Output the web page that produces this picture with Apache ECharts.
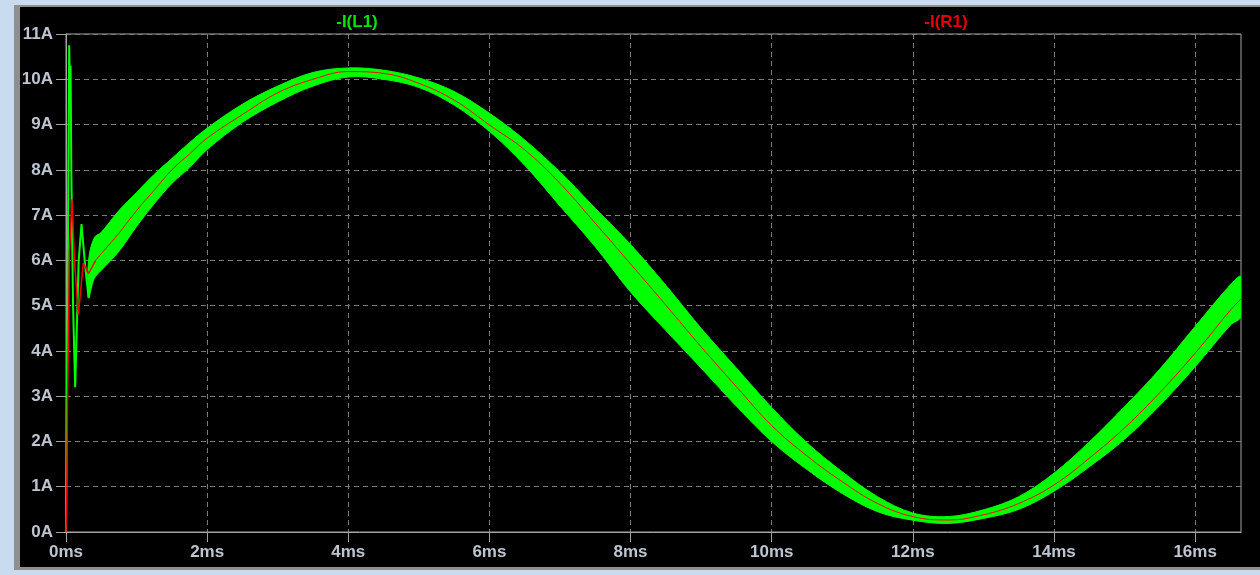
<!DOCTYPE html>
<html>
<head>
<meta charset="utf-8">
<title>-I(L1) / -I(R1)</title>
<script src="https://cdn.jsdelivr.net/npm/echarts@6/dist/echarts.min.js"></script>
<style>
  html, body { margin: 0; padding: 0; width: 1260px; height: 575px; overflow: hidden; background: #c9dbee; }
  #frame {
    position: absolute; left: 14px; top: 5px; width: 1246px; height: 565px;
    box-sizing: border-box; background: #000;
    border-left: 6px solid #8f8f8f; border-top: 2px solid #8f8f8f; border-bottom: 3px solid #8f8f8f;
  }
  #chart { position: absolute; left: 0; top: 0; width: 1260px; height: 575px; }
</style>
</head>
<body>
<div id="frame"></div>
<div id="chart"></div>
<script>
// Time axis in ms, currents in A.

// -I(R1): load current, start-up part
const timeR1Start = [0, 0.01, 0.02, 0.05, 0.085, 0.12, 0.175, 0.245, 0.32, 0.42];
const currentR1Start = [0, 0.7, 2.7, 6.2, 7.35, 6.0, 4.8, 5.94, 5.71, 6.0];

// -I(R1): load current, steady part
const timeR1 = [0.42, 0.5, 0.75, 1.0, 1.25, 1.5, 1.75,
  2.0, 2.5, 3.0, 3.5, 4.0, 4.5, 5.0, 5.5, 6.0, 6.5, 7.0, 7.5, 8.0, 8.5, 9.0, 9.5, 10.0, 10.5, 11.0, 11.5,
  12.0, 12.5, 13.0, 13.5, 14.0, 14.5, 15.0, 15.5, 16.0, 16.5, 16.65];
const currentR1 = [6.0, 6.15, 6.6, 7.1, 7.55, 8.0, 8.35,
  8.7, 9.22, 9.7, 10.0, 10.17, 10.13, 9.91, 9.54, 8.99, 8.44, 7.7, 6.82, 5.92, 5.01, 4.09, 3.21, 2.35, 1.68, 1.11, 0.63,
  0.34, 0.265, 0.38, 0.63, 1.04, 1.63, 2.3, 3.08, 3.95, 4.9, 5.15];

// -I(L1): start-up transient before the switching ripple settles into a band
const timeL1Start = [0, 0.02, 0.045, 0.055, 0.065, 0.075, 0.1, 0.13, 0.18, 0.22, 0.27, 0.32];
const currentL1Start = [0, 4.5, 10.75, 9.9, 10.3, 8.0, 5.0, 3.2, 6.0, 6.8, 5.9, 5.17];

// -I(L1): ripple envelope (min / max of the inductor current)
const timeL1Band = [0.32, 0.4, 0.5, 0.75, 1.0, 1.25, 1.5, 1.75, 2.0, 2.5, 3.0, 3.5, 4.0, 4.5, 5.0, 5.5, 6.0, 6.5,
  7.0, 7.5, 8.0, 8.5, 9.0, 9.5, 10.0, 10.5, 11.0, 11.5, 12.0, 12.5, 13.0, 13.5, 14.0, 14.5, 15.0, 15.5, 16.0, 16.5, 16.65];
const currentL1Min = [5.17, 5.6, 5.78, 6.2, 6.75, 7.25, 7.7, 8.05, 8.45, 9.05, 9.5, 9.85, 10.05, 10.0, 9.82, 9.43, 8.85, 8.1,
  7.2, 6.3, 5.3, 4.45, 3.62, 2.78, 2.0, 1.38, 0.85, 0.45, 0.26, 0.19, 0.3, 0.5, 0.9, 1.44, 2.05, 2.8, 3.65, 4.57, 4.76];
const currentL1Max = [6.0, 6.5, 6.62, 7.1, 7.5, 7.9, 8.25, 8.6, 8.92, 9.45, 9.85, 10.15, 10.25, 10.2, 10.03, 9.73, 9.25, 8.66,
  7.95, 7.15, 6.35, 5.45, 4.5, 3.62, 2.75, 1.97, 1.33, 0.78, 0.42, 0.34, 0.49, 0.78, 1.3, 1.99, 2.77, 3.6, 4.54, 5.46, 5.64];

const xTicks = [0, 2, 4, 6, 8, 10, 12, 14, 16];

const GREEN = '#00ff00';
const RED = '#ff0000';
const AXIS_GRAY = '#a4a4a4';
const GRID_GRAY = '#7c7c7c';
const LABEL_COLOR = '#bcc5d0';
const FONT = 'Liberation Sans, Arial, sans-serif';

const zip = (xs, ys) => xs.map((x, i) => [x, ys[i]]);

// Ripple band: one row per sample with [time, min, max]
const rippleRows = timeL1Band.map((t, i) => [t, currentL1Min[i], currentL1Max[i]]);

// Draws the envelope as one filled shape: smoothed max edge forward, smoothed min edge back.
function renderRipple(params, api) {
  if (params.dataIndex !== 0) return null;
  const upper = rippleRows.map(r => api.coord([r[0], r[2]]));
  const lower = rippleRows.map(r => api.coord([r[0], r[1]]));
  return {
    type: 'polygon',
    silent: true,
    shape: { points: upper.concat(lower.slice().reverse()), smooth: 0.35, smoothConstraint: false },
    style: { fill: GREEN, stroke: GREEN, lineWidth: 1 }
  };
}

const chart = echarts.init(document.getElementById('chart'), null, { renderer: 'canvas' });

const labelStyle = { color: LABEL_COLOR, fontFamily: FONT, fontWeight: 'bold', fontSize: 17 };

chart.setOption({
  animation: false,
  backgroundColor: 'transparent',
  grid: {
    left: 66, right: 19, top: 34, bottom: 43,
    show: true, borderColor: AXIS_GRAY, borderWidth: 1, backgroundColor: 'transparent'
  },
  xAxis: {
    type: 'value',
    min: 0, max: 16.65, interval: 2,
    axisLine: { show: true, lineStyle: { color: AXIS_GRAY, width: 1 } },
    axisTick: { show: true, length: 10, lineStyle: { color: AXIS_GRAY }, customValues: xTicks },
    axisLabel: Object.assign({ margin: 12, customValues: xTicks, formatter: v => v + 'ms' }, labelStyle),
    splitLine: { show: true, lineStyle: { color: GRID_GRAY, type: [5, 4], width: 1 } }
  },
  yAxis: {
    type: 'value',
    min: 0, max: 11, interval: 1,
    axisLine: { show: true, lineStyle: { color: AXIS_GRAY, width: 1 } },
    axisTick: { show: true, length: 10, lineStyle: { color: AXIS_GRAY } },
    axisLabel: Object.assign({ margin: 13, formatter: v => v + 'A' }, labelStyle),
    splitLine: { show: true, lineStyle: { color: GRID_GRAY, type: [5, 4], width: 1 } }
  },
  graphic: [
    { type: 'text', x: 357, y: 22, silent: true,
      style: { text: '-I(L1)', fill: '#00e600', font: 'bold 17px ' + FONT, align: 'center', verticalAlign: 'middle' } },
    { type: 'text', x: 946, y: 22, silent: true,
      style: { text: '-I(R1)', fill: '#e60000', font: 'bold 17px ' + FONT, align: 'center', verticalAlign: 'middle' } }
  ],
  series: [
    {
      name: '-I(L1) ripple', type: 'custom', clip: true,
      data: rippleRows,
      encode: { x: 0, y: [1, 2] },
      renderItem: renderRipple
    },
    {
      name: '-I(L1)', type: 'line', symbol: 'none',
      data: zip(timeL1Start, currentL1Start),
      lineStyle: { color: GREEN, width: 2 }
    },
    {
      name: '-I(R1)', type: 'line', symbol: 'none',
      data: zip(timeR1Start, currentR1Start),
      lineStyle: { color: RED, width: 1.5 }
    },
    {
      name: '-I(R1)', type: 'line', symbol: 'none', smooth: 0.4,
      data: zip(timeR1, currentR1),
      lineStyle: { color: RED, width: 1 }
    }
  ]
});
</script>
</body>
</html>
